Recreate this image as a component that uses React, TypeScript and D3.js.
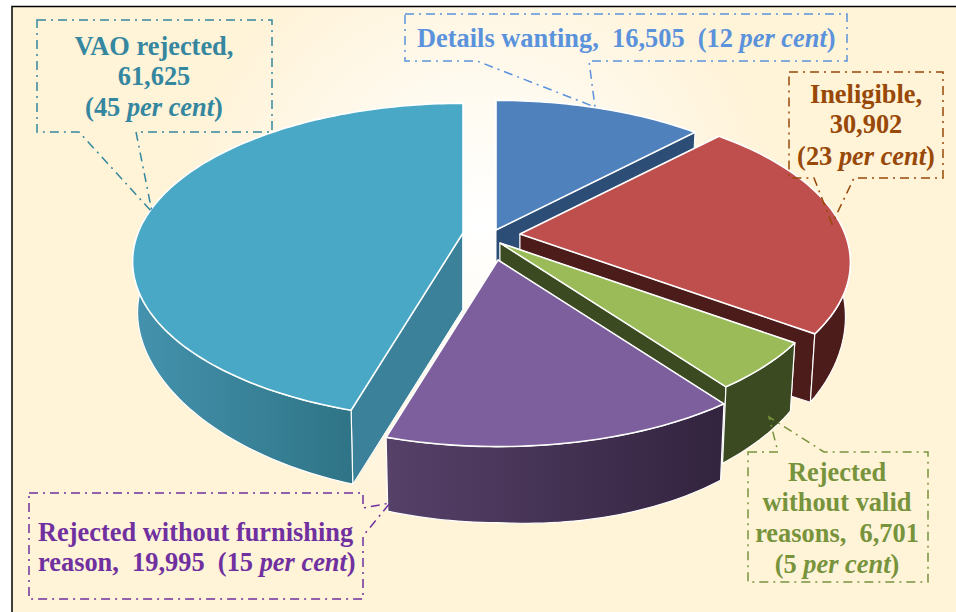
import React from 'react';
import * as d3 from 'd3';

// data, clockwise from 12 o'clock
const categories = ['Details wanting', 'Ineligible', 'Rejected without valid reasons', 'Rejected without furnishing reason', 'VAO rejected'];
const values = [16505, 30902, 6701, 19995, 61625];

const topColors = ['#4f81bd', '#bf4f4d', '#9bbb59', '#7c5f9c', '#48a8c5'];
const sideColors = ['#2c4e76', '#4b1c1a', '#3b4a20', '#33243f', '#3a8199'];
const rimFrom = ['#2c4e76', '#4b1c1a', '#3b4a20', '#564169', '#4492ad'];
const rimTo = ['#2c4e76', '#4b1c1a', '#3b4a20', '#32233e', '#2f7486'];
// where each exploded wedge has its tip
const tips: [number, number][] = [[496, 230], [520, 234], [500, 243], [498, 260], [463, 233]];
// back to front
const drawOrder = [0, 1, 4, 2, 3];

const R = 325;
const K = 153;
const P = 0.18;
const TIP_DEPTH = 76;
const SERIF = '"Liberation Serif", serif';

// the wall looks shallower towards the sides of the disc than at the front
const depthAt = (a: number) => {
  const v = -Math.cos(a);
  return 50 + 26 * v * v + 20 * Math.max(0, Math.sin(a)) * v;
};

const project = (tip: [number, number], a: number, bottom = false): [number, number] => {
  const v = -Math.cos(a);
  const s = 1 / (1 - P * v);
  const x = R * Math.sin(a) * s;
  const y = K * v * s;
  return bottom ? [tip[0] + x * 0.985, tip[1] + y + depthAt(a)] : [tip[0] + x, tip[1] + y];
};

const line = d3.line();

type Run = { t: string; i?: boolean };
const perCent = (before: string, after = ')'): Run[] => [{ t: before }, { t: 'per cent', i: true }, { t: after }];

const callouts = [
  {
    color: '#5b92dc',
    box: [[405, 14], [847, 14], [847, 61], [589, 61], [595, 107], [477, 61], [405, 61]],
    anchor: 'start',
    x: 417,
    lines: [{ y: 47, runs: perCent('Details wanting,  16,505  (12 ') }],
  },
  {
    color: '#984807',
    box: [[789, 72], [943, 72], [943, 178], [854, 178], [832, 224], [814, 178], [789, 178]],
    anchor: 'middle',
    x: 866,
    lines: [
      { y: 103, runs: [{ t: 'Ineligible,' }] },
      { y: 133, runs: [{ t: '30,902' }] },
      { y: 165, runs: perCent('(23 ') },
    ],
  },
  {
    color: '#77933c',
    box: [[748, 452], [778, 452], [769, 417], [824, 452], [928, 452], [928, 582], [748, 582]],
    anchor: 'middle',
    x: 837,
    lines: [
      { y: 481, runs: [{ t: 'Rejected' }] },
      { y: 511, runs: [{ t: 'without valid' }] },
      { y: 542, runs: [{ t: 'reasons,  6,701' }] },
      { y: 573, runs: perCent('(5 ') },
    ],
  },
  {
    color: '#7030a0',
    box: [[29, 493], [363, 493], [363, 508], [390, 503], [363, 536], [363, 599], [29, 599]],
    anchor: 'start',
    x: 38,
    lines: [
      { y: 541, runs: [{ t: 'Rejected without furnishing' }] },
      { y: 571, runs: perCent('reason,  19,995  (15 ') },
    ],
  },
  {
    color: '#35879f',
    box: [[37, 20], [272, 20], [272, 132], [136, 132], [152, 212], [79, 132], [37, 132]],
    anchor: 'middle',
    x: 154,
    lines: [
      { y: 55, runs: [{ t: 'VAO rejected,' }] },
      { y: 85, runs: [{ t: '61,625' }] },
      { y: 116, runs: perCent('(45 ') },
    ],
  },
];

const App = () => {
  const arcs = d3.pie<number>().sort(null)(values);

  const slices = drawOrder.map((idx) => {
    const { startAngle: a0, endAngle: a1 } = arcs[idx];
    const tip = tips[idx];
    const angles = [...d3.range(a0, a1, 0.02), a1];
    const topRim = angles.map((a) => project(tip, a));
    // only the part of the rim that faces the viewer gets an outer wall
    const front = angles.filter((a) => Math.cos(a) < 0);
    const frontTop = front.map((a) => project(tip, a));
    const frontLow = front.map((a) => project(tip, a, true)).reverse();
    const lowTip: [number, number] = [tip[0], tip[1] + TIP_DEPTH];
    const wall = (a: number) =>
      line([tip, project(tip, a), project(tip, a, true), lowTip])! + 'Z';
    return (
      <g key={categories[idx]} stroke="#fff" strokeLinejoin="round">
        <path d={wall(a0)} fill={sideColors[idx]} strokeWidth={1} />
        <path d={wall(a1)} fill={sideColors[idx]} strokeWidth={1} />
        {front.length > 0 && (
          <path d={line([...frontTop, ...frontLow])! + 'Z'} fill={`url(#rim${idx})`} strokeWidth={1.2} />
        )}
        <path d={line([tip, ...topRim])! + 'Z'} fill={topColors[idx]} strokeWidth={1.6} />
      </g>
    );
  });

  return (
    <svg width={956} height={612} style={{ position: 'absolute', left: 0, top: 0 }}>
      <defs>
        <radialGradient id="bg" gradientUnits="userSpaceOnUse" cx={480} cy={225} r={300}>
          <stop offset="0" stopColor="#ffffff" />
          <stop offset="0.4" stopColor="#fffbf2" />
          <stop offset="1" stopColor="#fff3d8" />
        </radialGradient>
        {categories.map((c, i) => (
          <linearGradient key={c} id={`rim${i}`} gradientUnits="userSpaceOnUse" x1={i === 3 ? 387 : 136} x2={i === 3 ? 725 : 352} y1={0} y2={0}>
            <stop offset="0" stopColor={rimFrom[i]} />
            <stop offset="1" stopColor={rimTo[i]} />
          </linearGradient>
        ))}
      </defs>

      <rect width={956} height={612} fill="#fff" />
      <rect x={12} y={6.5} width={960} height={620} fill="url(#bg)" stroke="#000" strokeWidth={1.5} />

      {slices}

      {callouts.map((c) => (
        <g key={c.color}>
          <path
            d={line(c.box as [number, number][])! + 'Z'}
            fill="none"
            stroke={c.color}
            strokeWidth={1.5}
            strokeDasharray="9 5 2 5"
          />
          <text
            textAnchor={c.anchor as 'start' | 'middle'}
            fill={c.color}
            fontFamily={SERIF}
            fontWeight="bold"
            fontSize={26.4}
            style={{ whiteSpace: 'pre' }}
          >
            {c.lines.map((l, i) => (
              <tspan key={i} x={c.x} y={l.y}>
                {l.runs.map((r, j) => (
                  <tspan key={j} fontStyle={r.i ? 'italic' : 'normal'}>{r.t}</tspan>
                ))}
              </tspan>
            ))}
          </text>
        </g>
      ))}
    </svg>
  );
};

export default App;
